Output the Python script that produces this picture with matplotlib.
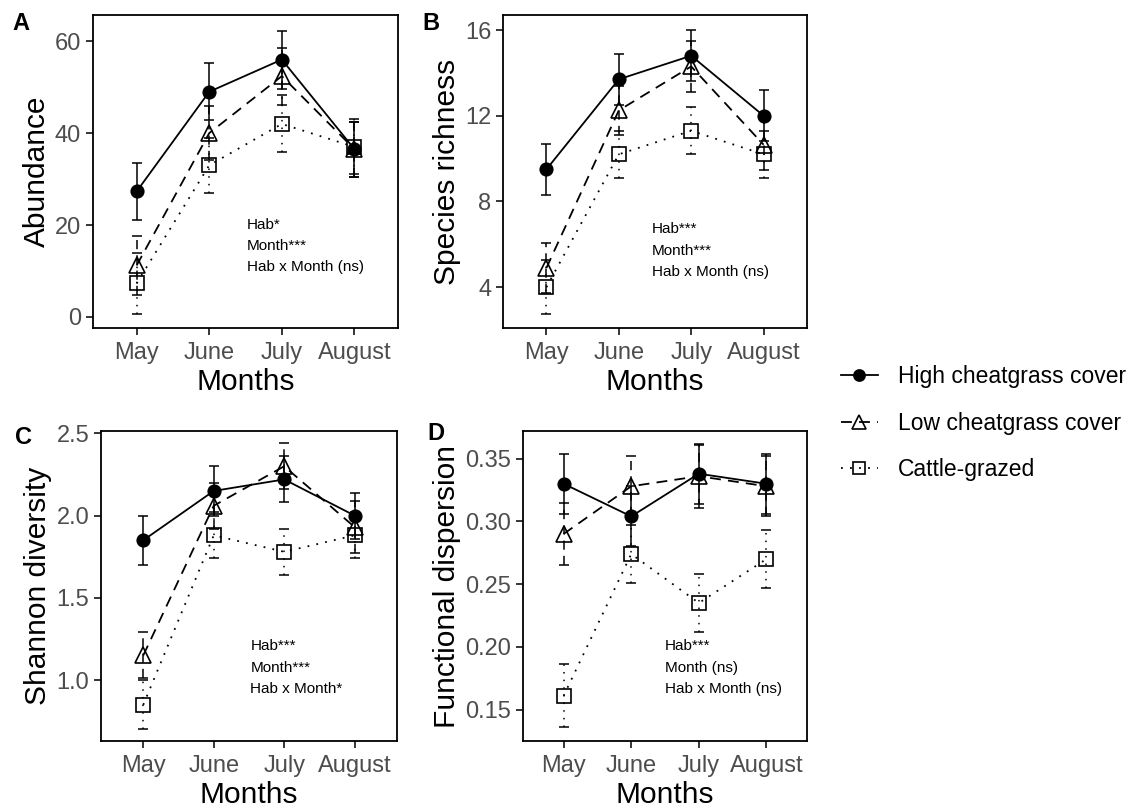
import numpy as np
import matplotlib.pyplot as plt
from matplotlib.lines import Line2D

plt.rcParams['font.family'] = ['Liberation Sans', 'DejaVu Sans']

months = ["May", "June", "July", "August"]
groups = ["High cheatgrass cover", "Low cheatgrass cover", "Cattle-grazed"]

# panel A - abundance
abund_high = [27.3, 49.0, 56.0, 36.5]
abund_high_se = [6.2, 6.2, 6.3, 6.0]
abund_low = [11.2, 40.0, 52.4, 36.5]
abund_low_se = [6.4, 5.9, 6.2, 6.0]
abund_cat = [7.3, 33.0, 42.0, 37.0]
abund_cat_se = [6.7, 6.0, 6.2, 6.0]

# panel B - species richness
rich_high = [9.5, 13.7, 14.8, 12.0]
rich_high_se = [1.2, 1.2, 1.2, 1.2]
rich_low = [4.9, 12.25, 14.3, 10.65]
rich_low_se = [1.15, 1.15, 1.2, 1.2]
rich_cat = [4.0, 10.2, 11.3, 10.2]
rich_cat_se = [1.25, 1.1, 1.1, 1.1]

# panel C - shannon diversity
shan_high = [1.85, 2.15, 2.22, 2.0]
shan_high_se = [0.15, 0.15, 0.14, 0.14]
shan_low = [1.15, 2.06, 2.30, 1.93]
shan_low_se = [0.14, 0.14, 0.14, 0.16]
shan_cat = [0.85, 1.88, 1.78, 1.88]
shan_cat_se = [0.15, 0.14, 0.14, 0.14]

# panel D - functional dispersion
fdis_high = [0.330, 0.304, 0.338, 0.330]
fdis_high_se = [0.024, 0.024, 0.024, 0.024]
fdis_low = [0.290, 0.328, 0.336, 0.328]
fdis_low_se = [0.025, 0.024, 0.025, 0.024]
fdis_cat = [0.161, 0.274, 0.235, 0.270]
fdis_cat_se = [0.025, 0.023, 0.023, 0.023]

styles = [
    dict(marker='o', mfc='black', mec='black', ms=9, ls='-'),
    dict(marker='^', mfc='none', mec='black', ms=11, ls=(0, (6, 4))),
    dict(marker='s', mfc='none', mec='black', ms=9.5, ls=(0, (1, 4))),
]

fig = plt.figure(figsize=(11.46, 8.11), dpi=100)
axA = fig.add_axes([0.0812, 0.5956, 0.2661, 0.3859])
axB = fig.add_axes([0.4389, 0.5956, 0.2653, 0.3859])
axC = fig.add_axes([0.0881, 0.0863, 0.2583, 0.3822])
axD = fig.add_axes([0.4564, 0.0863, 0.2478, 0.3822])

x = np.arange(1, 5)


def draw(ax, series, ylabel, ylim, yticks, yfmt, notes, note_xy, letter, letter_xy):
    for i in [2, 1, 0]:
        vals, se = series[i]
        st = styles[i]
        ax.plot(x, vals, color='black', lw=1.3, ls=st['ls'], zorder=2)
        eb = ax.errorbar(x, vals, yerr=se, fmt='none', ecolor='black',
                         elinewidth=1.1, capsize=3.6, capthick=1.1, zorder=3)
        eb[2][0].set_linestyle(st['ls'])
        ax.plot(x, vals, ls='none', marker=st['marker'], mfc=st['mfc'],
                mec=st['mec'], ms=st['ms'], mew=1.2, zorder=5 + (2 - i))
    ax.set_xlim(0.4, 4.6)
    ax.set_ylim(*ylim)
    ax.set_xticks(x)
    ax.set_xticklabels(months)
    ax.set_yticks(yticks)
    ax.set_yticklabels([yfmt.format(v) for v in yticks])
    ax.tick_params(axis='both', labelsize=17, labelcolor='#4d4d4d',
                   color='black', length=5, width=1.1)
    ax.tick_params(axis='x', pad=5)
    for s in ax.spines.values():
        s.set_linewidth(1.3)
        s.set_color('black')
    ax.set_xlabel("Months", fontsize=21.5, labelpad=3)
    ax.set_ylabel(ylabel, fontsize=21.5, labelpad=3)
    for k, t in enumerate(notes):
        ax.text(note_xy[0], note_xy[1] - k * 0.068, t, transform=ax.transAxes,
                fontsize=11, va='center', ha='left')
    fig.text(letter_xy[0], letter_xy[1], letter, fontsize=17, fontweight='bold',
             ha='left', va='center')


draw(axA, [(abund_high, abund_high_se), (abund_low, abund_low_se), (abund_cat, abund_cat_se)],
     "Abundance", (-2.4, 65.7), [0, 20, 40, 60], "{:g}",
     ["Hab*", "Month***", "Hab x Month (ns)"], (0.505, 0.33), "A", (0.011, 0.971))
draw(axB, [(rich_high, rich_high_se), (rich_low, rich_low_se), (rich_cat, rich_cat_se)],
     "Species richness", (2.1, 16.7), [4, 8, 12, 16], "{:g}",
     ["Hab***", "Month***", "Hab x Month (ns)"], (0.49, 0.315), "B", (0.369, 0.971))
draw(axC, [(shan_high, shan_high_se), (shan_low, shan_low_se), (shan_cat, shan_cat_se)],
     "Shannon diversity", (0.63, 2.514), [1.0, 1.5, 2.0, 2.5], "{:.1f}",
     ["Hab***", "Month***", "Hab x Month*"], (0.505, 0.305), "C", (0.013, 0.461))
draw(axD, [(fdis_high, fdis_high_se), (fdis_low, fdis_low_se), (fdis_cat, fdis_cat_se)],
     "Functional dispersion", (0.125, 0.372), [0.15, 0.20, 0.25, 0.30, 0.35], "{:.2f}",
     ["Hab***", "Month (ns)", "Hab x Month (ns)"], (0.5, 0.305), "D", (0.373, 0.466))

handles = []
for i in range(3):
    st = styles[i]
    handles.append(Line2D([], [], color='black', lw=1.3, ls=st['ls'], marker=st['marker'],
                          mfc=st['mfc'], mec=st['mec'], ms=st['ms'] - 1, mew=1.2))
fig.legend(handles, groups, loc='center left', bbox_to_anchor=(0.716, 0.478),
           frameon=False, fontsize=16.5, handlelength=1.6, labelspacing=1.02,
           handletextpad=0.87)

fig.savefig("out.png", dpi=100)
